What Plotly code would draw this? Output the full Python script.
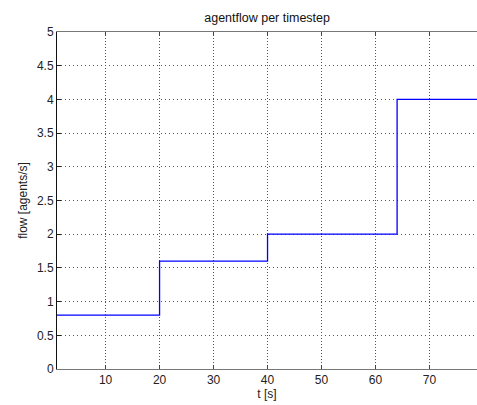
import plotly.graph_objects as go

t_values = [1, 20, 40, 64, 79]
flow_values = [0.8, 1.6, 2.0, 4.0, 4.0]
x_ticks = [10, 20, 30, 40, 50, 60, 70]
y_ticks = [0, 0.5, 1, 1.5, 2, 2.5, 3, 3.5, 4, 4.5, 5]
y_tick_text = ["0", "0.5", "1", "1.5", "2", "2.5", "3", "3.5", "4", "4.5", "5"]

fig = go.Figure()
fig.add_trace(go.Scatter(x=t_values, y=flow_values, mode="lines", line_shape="hv",
                         line=dict(color="#0000ff", width=1.3), showlegend=False))

font = dict(family="Liberation Sans, Arial, sans-serif", size=12, color="#222222")
fig.update_layout(
    width=477, height=405,
    margin=dict(l=57, r=0, t=32, b=36),
    paper_bgcolor="white", plot_bgcolor="white",
    font=font,
    title=dict(text="agentflow per timestep", x=0.56, xanchor="center", y=1 - 18 / 405,
               yanchor="middle", font=dict(size=12.5, color="#111111")),
)
fig.update_xaxes(range=[1, 78.8], tickvals=x_ticks, ticks="inside", ticklen=4,
                 tickcolor="#444444", showline=True, linecolor="#777777", linewidth=1,
                 mirror="ticks", showgrid=True, gridcolor="#555555", griddash="1px,2px",
                 gridwidth=1, zeroline=False,
                 title=dict(text="t [s]", standoff=3, font=font))
fig.update_yaxes(range=[0, 5], tickvals=y_ticks, ticktext=y_tick_text, ticks="inside",
                 ticklen=4, tickcolor="#222222", showline=True, linecolor="#111111",
                 linewidth=1, mirror=False, showgrid=True, gridcolor="#555555",
                 griddash="1px,3px", gridwidth=1, zeroline=False,
                 title=dict(text="flow [agents/s]", standoff=6, font=font))

fig.write_html("out.html")
